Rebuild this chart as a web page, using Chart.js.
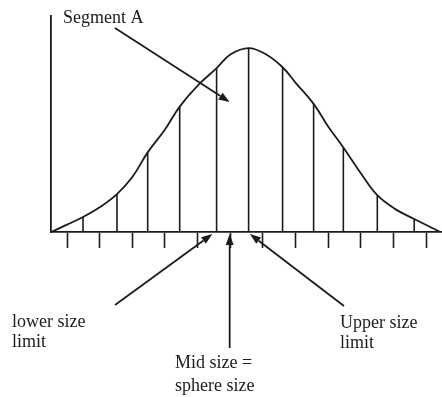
<!DOCTYPE html>
<html>
<head>
<meta charset="utf-8">
<script src="https://cdn.jsdelivr.net/npm/chart.js@4/dist/chart.umd.min.js"></script>
<style>
  html, body { margin: 0; padding: 0; background: #fff; }
  #wrap { width: 442px; height: 397px; }
</style>
</head>
<body>
<div id="wrap"><canvas id="sizeCurve"></canvas></div>
<script>
// size (x) vs frequency (y, peak ~ 100)
const curveX = [0.51, 1.0, 1.49, 2.0, 2.53, 3.0, 3.47, 4.0, 4.45, 5.0, 5.58, 6.0, 6.56, 7.1, 7.6, 8.0, 8.55, 9.0, 9.46, 10.0, 10.5, 11.05, 11.63, 12.43];
const curveY = [0, 4, 8.2, 13.5, 20.7, 30, 43.5, 56, 68.5, 80, 89.5, 97, 100.5, 97, 90, 81.5, 70, 57.5, 46.2, 32, 20.1, 12.5, 7.1, 0];

// vertical segment boundaries
const dividerX = [1.49, 2.53, 3.47, 4.45, 5.58, 6.56, 7.6, 8.55, 9.46, 10.5, 11.63];
const dividerY = [8.2, 20.7, 43.5, 68.5, 89.5, 100.5, 90, 70, 46.2, 20.1, 7.1];

// tick marks under the size axis
const tickPositions = [1, 2, 3, 4, 5, 6, 7, 8, 9, 10, 11, 12];

const ink = '#1c1c1c';

const curvePoints = curveX.map((x, i) => ({ x: x, y: curveY[i] }));
const dividerPoints = [];
dividerX.forEach((x, i) => {
    dividerPoints.push({ x: x, y: 0 });
    dividerPoints.push({ x: x, y: dividerY[i] });
    dividerPoints.push({ x: x, y: null });
});

function arrow(ctx, x1, y1, x2, y2) {
    const ang = Math.atan2(y2 - y1, x2 - x1);
    const len = 11, half = 4;
    const bx = x2 - len * Math.cos(ang), by = y2 - len * Math.sin(ang);
    ctx.beginPath();
    ctx.moveTo(x1, y1);
    ctx.lineTo(bx, by);
    ctx.stroke();
    ctx.beginPath();
    ctx.moveTo(x2, y2);
    ctx.lineTo(bx - half * Math.sin(ang), by + half * Math.cos(ang));
    ctx.lineTo(bx + half * Math.sin(ang), by - half * Math.cos(ang));
    ctx.closePath();
    ctx.fill();
}

const notes = {
    id: 'notes',
    afterDraw(chart) {
        const ctx = chart.ctx;
        const xs = chart.scales.x, ys = chart.scales.y;
        const base = ys.getPixelForValue(0) + 2;
        ctx.save();
        ctx.strokeStyle = ink;
        ctx.fillStyle = ink;
        ctx.lineWidth = 1.8;
        arrow(ctx, 115, 28, xs.getPixelForValue(5.98), ys.getPixelForValue(71));
        arrow(ctx, 115, 305, xs.getPixelForValue(5.45), base);
        arrow(ctx, xs.getPixelForValue(5.98), 348, xs.getPixelForValue(5.98), base);
        arrow(ctx, 344, 306, xs.getPixelForValue(6.6), base);

        ctx.font = '18px "Liberation Serif", "DejaVu Serif", serif';
        ctx.textBaseline = 'alphabetic';
        ctx.fillText('Segment A', 63, 23);
        ctx.fillText('lower size', 12, 327);
        ctx.fillText('limit', 12, 347);
        ctx.fillText('Mid size =', 175, 368);
        ctx.fillText('sphere size', 175, 391);
        ctx.fillText('Upper size', 340, 328);
        ctx.fillText('limit', 340, 348);
        ctx.restore();
    }
};

document.addEventListener('DOMContentLoaded', function () {
    const ctx = document.getElementById('sizeCurve').getContext('2d');
    new Chart(ctx, {
        type: 'line',
        data: {
            datasets: [{
                label: 'distribution',
                data: curvePoints,
                borderColor: ink,
                borderWidth: 1.8,
                pointRadius: 0,
                tension: 0.4,
                fill: false
            }, {
                label: 'segments',
                data: dividerPoints,
                borderColor: ink,
                borderWidth: 1.6,
                pointRadius: 0,
                spanGaps: false,
                fill: false
            }]
        },
        options: {
            responsive: true,
            maintainAspectRatio: false,
            animation: false,
            layout: {
                padding: { left: 43, right: 1, top: 16, bottom: 149 }
            },
            plugins: {
                legend: { display: false },
                tooltip: { enabled: false }
            },
            scales: {
                x: {
                    type: 'linear',
                    min: 0.51,
                    max: 12.45,
                    offset: false,
                    afterBuildTicks: function (scale) {
                        scale.ticks = tickPositions.map(v => ({ value: v }));
                    },
                    ticks: { display: false },
                    grid: {
                        display: true,
                        drawOnChartArea: false,
                        drawTicks: true,
                        tickLength: 16,
                        tickColor: ink,
                        tickWidth: 1.6
                    },
                    border: { display: true, color: ink, width: 1.8 }
                },
                y: {
                    min: 0,
                    max: 118,
                    ticks: { display: false },
                    grid: { display: false },
                    border: { display: true, color: ink, width: 1.8 }
                }
            }
        },
        plugins: [notes]
    });
});
</script>
</body>
</html>
